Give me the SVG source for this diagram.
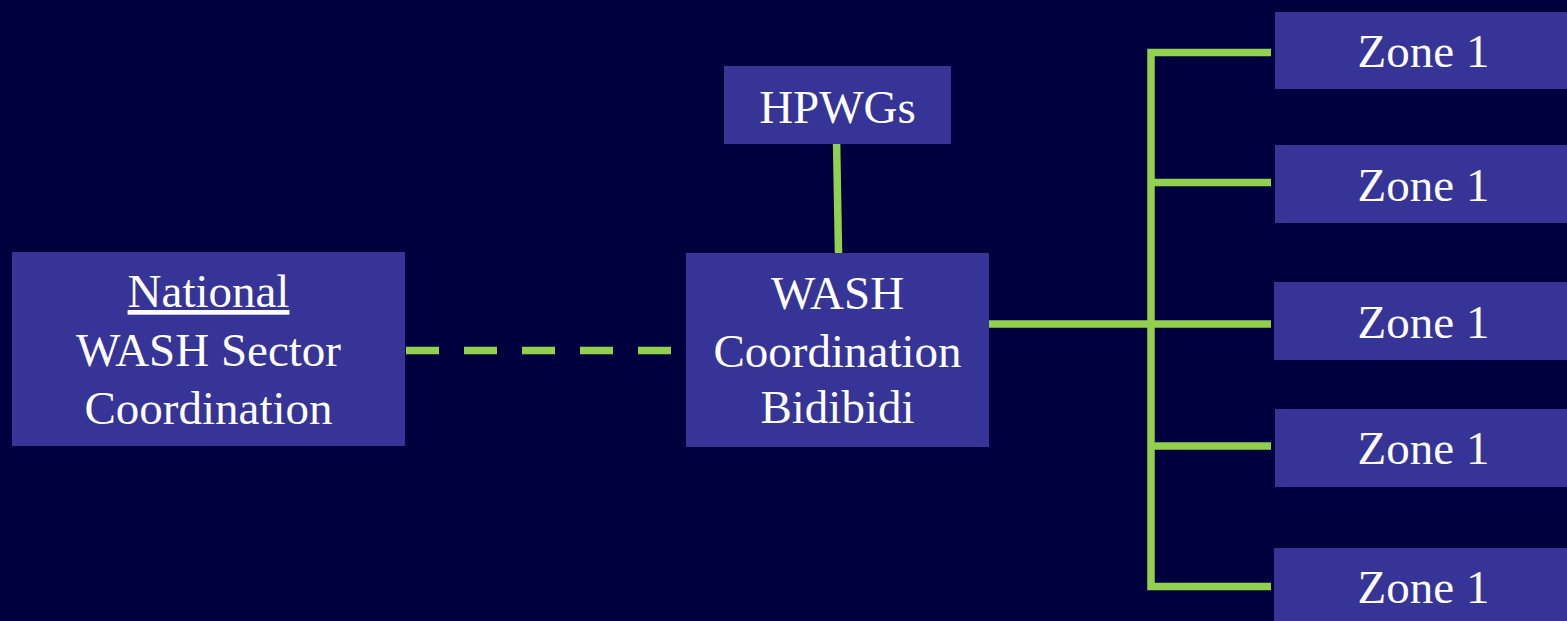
<svg xmlns="http://www.w3.org/2000/svg" width="1567" height="621" viewBox="0 0 1567 621">
<style>
.box{fill:#363597}
.t{font-family:"Liberation Serif","Times New Roman",serif;font-size:47px;fill:#ffffff;text-anchor:middle}
.c{stroke:#92d050;stroke-width:7.5;fill:none}
</style>
<rect width="1567" height="621" fill="#00003f"/>
<g id="connectors">
<line class="c" x1="406" y1="350.5" x2="672" y2="350.5" stroke-dasharray="33 25"/>
<line class="c" x1="836.5" y1="138" x2="838.5" y2="253"/>
<line class="c" x1="989" y1="324" x2="1271" y2="324"/>
<polyline class="c" points="1271,52.5 1151,52.5 1151,586.5 1271,586.5"/>
<line class="c" x1="1151" y1="182.5" x2="1271" y2="182.5"/>
<line class="c" x1="1151" y1="446" x2="1271" y2="446"/>
</g>
<g id="national">
<rect class="box" x="12" y="252" width="393" height="194"/>
<text class="t" x="208.5" y="307"><tspan text-decoration="underline">National</tspan></text>
<text class="t" x="208.5" y="366">WASH Sector</text>
<text class="t" x="208.5" y="424">Coordination</text>
</g>
<g id="hpwgs">
<rect class="box" x="724" y="66" width="227" height="78"/>
<text class="t" x="837.5" y="123">HPWGs</text>
</g>
<g id="wash-bidibidi">
<rect class="box" x="686" y="253" width="303" height="194"/>
<text class="t" x="837.5" y="309">WASH</text>
<text class="t" x="837.5" y="367">Coordination</text>
<text class="t" x="837.5" y="423">Bidibidi</text>
</g>
<g id="zone-a">
<rect class="box" x="1275" y="12" width="292" height="77"/>
<text class="t" x="1423.5" y="67">Zone 1</text>
</g>
<g id="zone-b">
<rect class="box" x="1275" y="145" width="292" height="78"/>
<text class="t" x="1423.5" y="201">Zone 1</text>
</g>
<g id="zone-c">
<rect class="box" x="1274" y="282" width="293" height="78"/>
<text class="t" x="1423.5" y="338">Zone 1</text>
</g>
<g id="zone-d">
<rect class="box" x="1275" y="409" width="292" height="78"/>
<text class="t" x="1423.5" y="464">Zone 1</text>
</g>
<g id="zone-e">
<rect class="box" x="1274" y="548" width="293" height="78"/>
<text class="t" x="1423.5" y="603">Zone 1</text>
</g>
</svg>
